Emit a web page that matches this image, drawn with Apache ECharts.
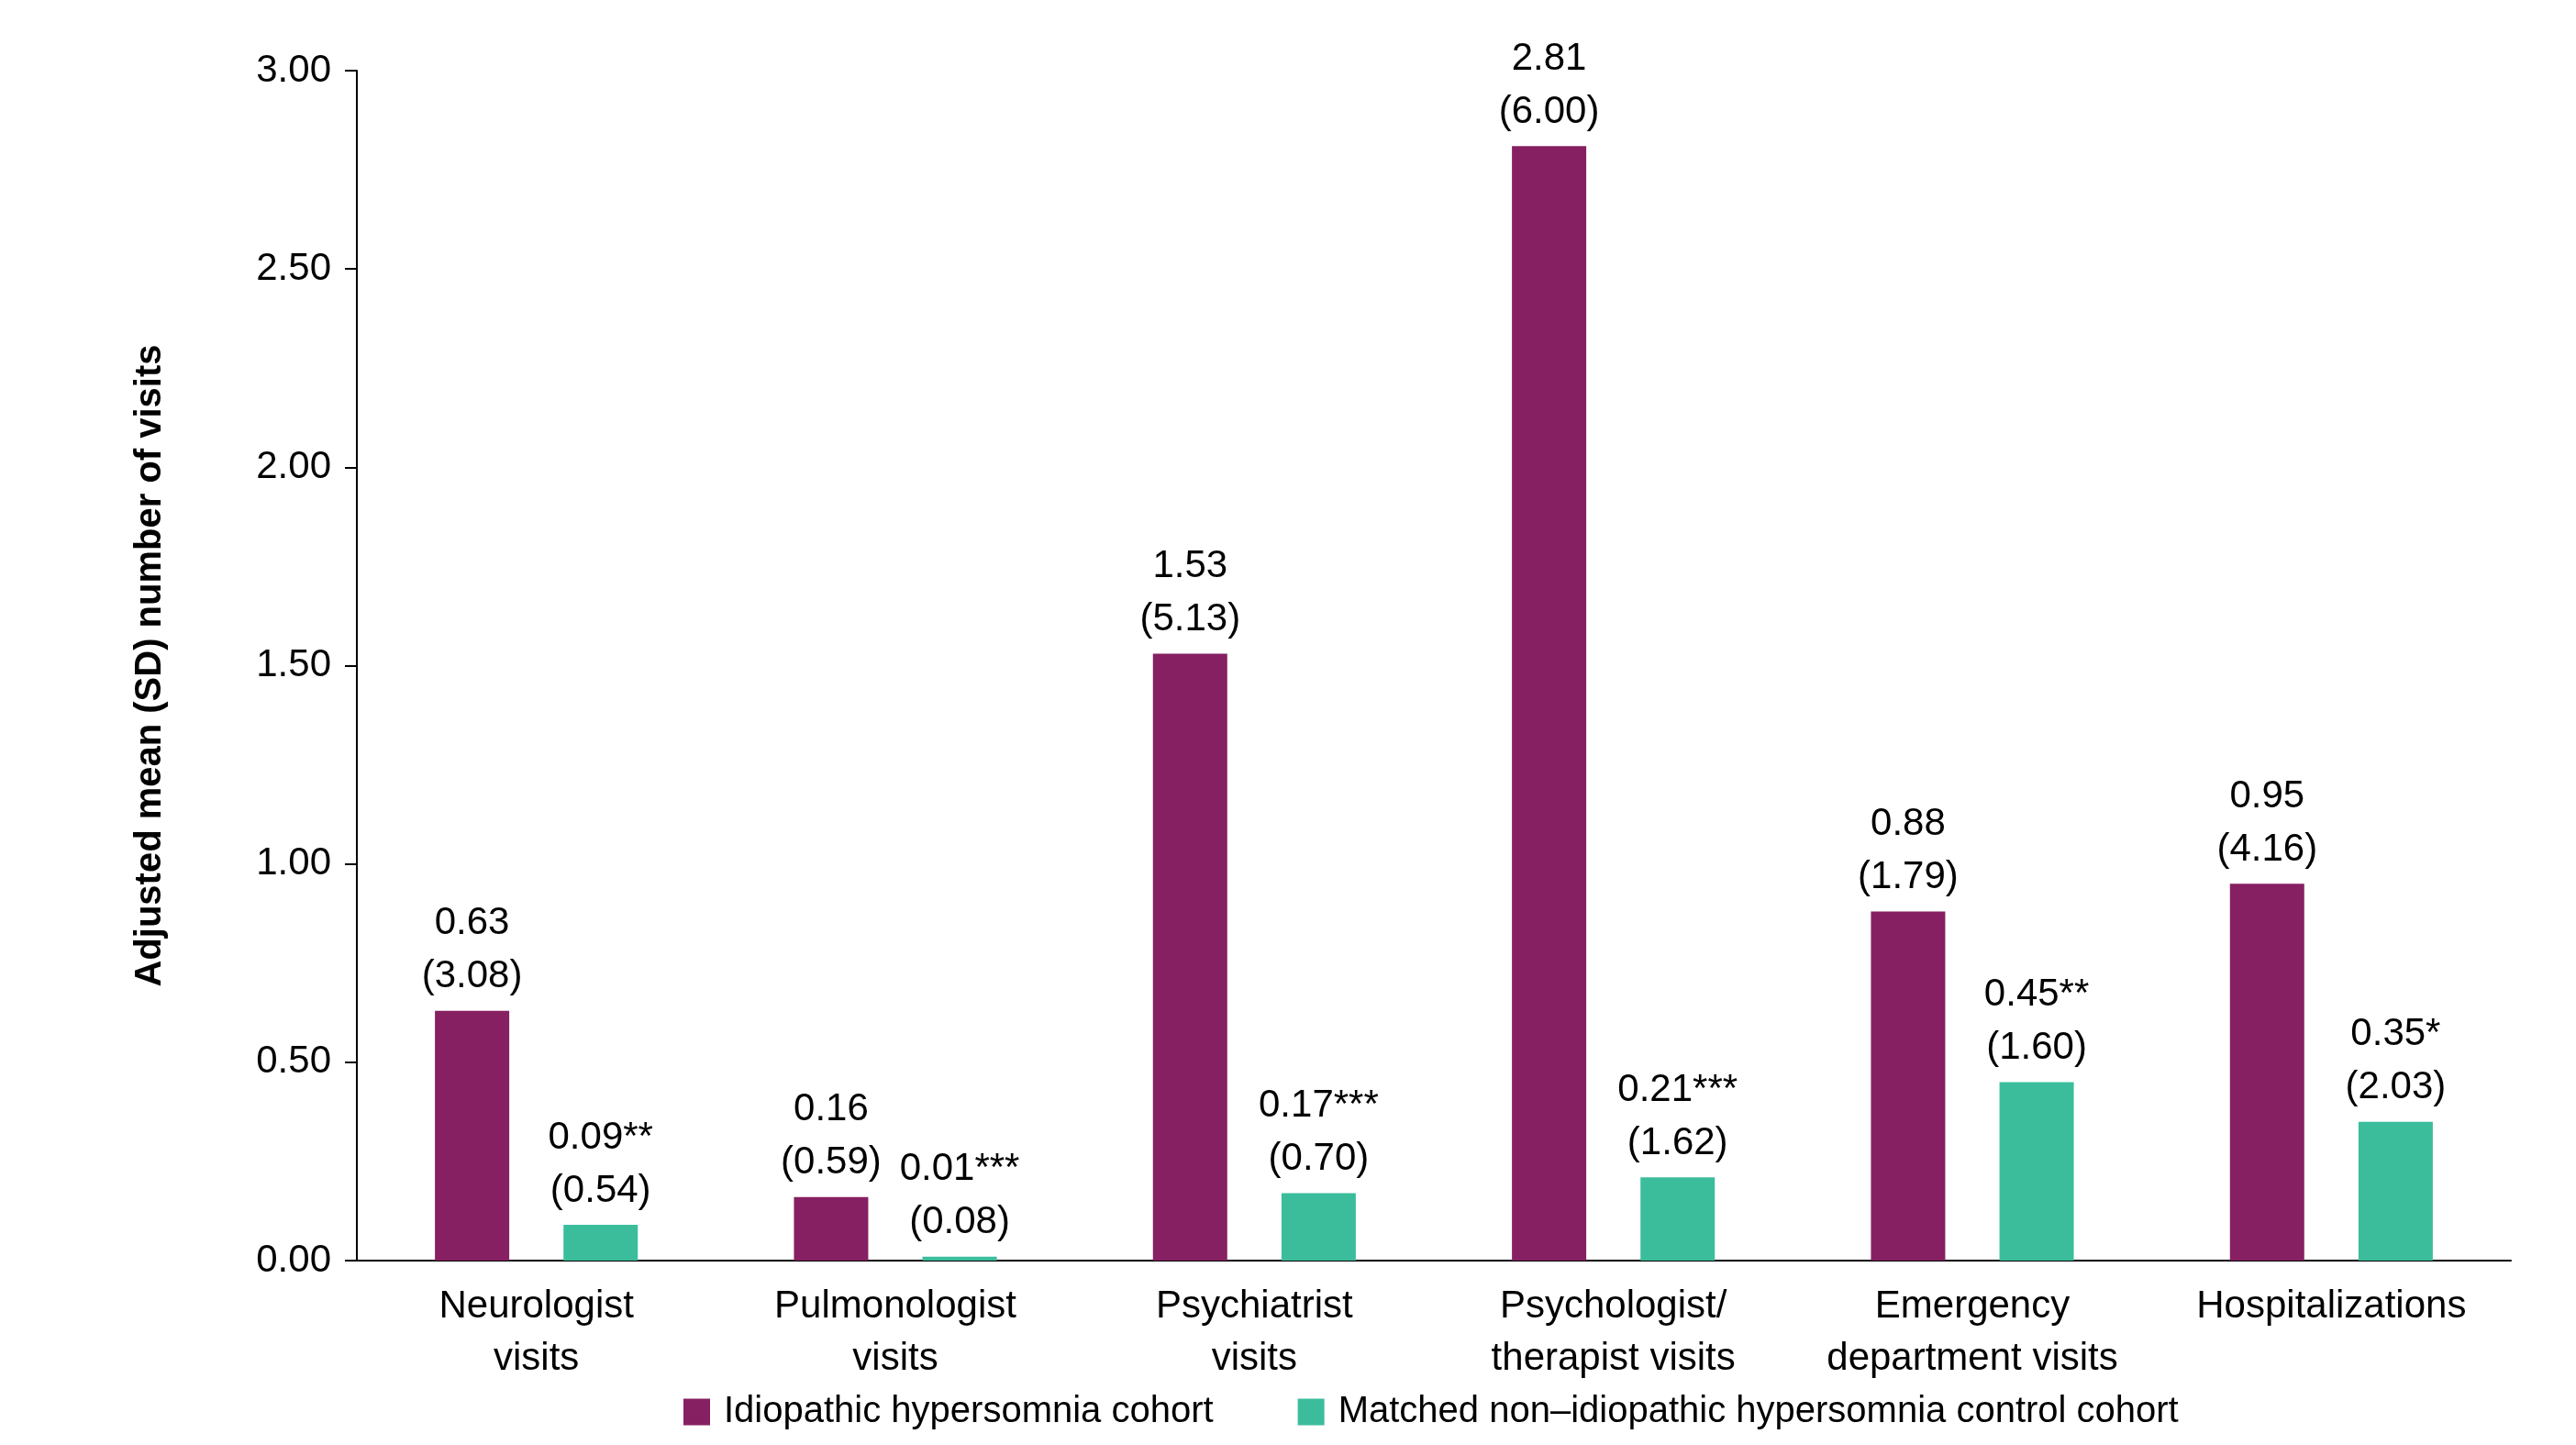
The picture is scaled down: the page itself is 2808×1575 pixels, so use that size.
<!DOCTYPE html>
<html>
<head>
<meta charset="utf-8">
<script src="https://cdn.jsdelivr.net/npm/echarts@6/dist/echarts.min.js"></script>
<style>
html,body{margin:0;padding:0;background:#fff;}
#chart{width:2808px;height:1575px;}
</style>
</head>
<body>
<div id="chart"></div>
<script>
const categories = ["Neurologist\nvisits", "Pulmonologist\nvisits", "Psychiatrist\nvisits", "Psychologist/\ntherapist visits", "Emergency\ndepartment visits", "Hospitalizations"];
const ihMeans = [0.63, 0.16, 1.53, 2.81, 0.88, 0.95];
const ihSD = [3.08, 0.59, 5.13, 6.00, 1.79, 4.16];
const ctrlMeans = [0.09, 0.01, 0.17, 0.21, 0.45, 0.35];
const ctrlSD = [0.54, 0.08, 0.70, 1.62, 1.60, 2.03];
const ctrlStars = ["**", "***", "***", "***", "**", "*"];
const seriesNames = ["Idiopathic hypersomnia cohort", "Matched non\u2013idiopathic hypersomnia control cohort"];
const yTicks = {min: 0, max: 3, interval: 0.5};

const FONT = '"Liberation Sans", Arial, sans-serif';
const FS = 42;
const PURPLE = '#862062';
const TEAL = '#3bbd9c';

const chart = echarts.init(document.getElementById('chart'));
const labelStyle = {
  show: true, position: 'top', distance: 8, color: '#000',
  fontFamily: FONT, fontSize: FS, lineHeight: 58
};
chart.setOption({
  animation: false,
  backgroundColor: '#fff',
  textStyle: {fontFamily: FONT},
  grid: {left: 389, right: 71, top: 77, bottom: 201, containLabel: false},
  legend: {
    data: seriesNames, top: 1514, left: 740,
    itemWidth: 29, itemHeight: 29, itemGap: 92,
    icon: 'rect',
    textStyle: {fontFamily: FONT, fontSize: 40, color: '#000', padding: [0, 0, 0, 10]}
  },
  xAxis: {
    type: 'category', data: categories,
    axisLine: {lineStyle: {color: '#000', width: 2}},
    axisTick: {show: false},
    axisLabel: {interval: 0, color: '#000', fontFamily: FONT, fontSize: FS, lineHeight: 57, margin: 22}
  },
  yAxis: {
    type: 'value', min: yTicks.min, max: yTicks.max, interval: yTicks.interval,
    name: 'Adjusted mean (SD) number of visits', nameLocation: 'middle', nameGap: 205,
    nameTextStyle: {fontFamily: FONT, fontSize: 40, fontWeight: 'bold', color: '#000'},
    axisLine: {show: true, lineStyle: {color: '#000', width: 2}},
    axisTick: {show: true, length: 13, lineStyle: {color: '#000', width: 2}},
    splitLine: {show: false},
    axisLabel: {color: '#000', fontFamily: FONT, fontSize: FS, margin: 28, formatter: v => v.toFixed(2)}
  },
  series: [
    {
      name: seriesNames[0], type: 'bar', data: ihMeans, barWidth: 81, barGap: '73%',
      itemStyle: {color: PURPLE},
      label: Object.assign({}, labelStyle, {formatter: p => ihMeans[p.dataIndex].toFixed(2) + '\n(' + ihSD[p.dataIndex].toFixed(2) + ')'})
    },
    {
      name: seriesNames[1], type: 'bar', data: ctrlMeans, barWidth: 81,
      itemStyle: {color: TEAL},
      label: Object.assign({}, labelStyle, {formatter: p => ctrlMeans[p.dataIndex].toFixed(2) + ctrlStars[p.dataIndex] + '\n(' + ctrlSD[p.dataIndex].toFixed(2) + ')'})
    }
  ]
});
</script>
</body>
</html>
